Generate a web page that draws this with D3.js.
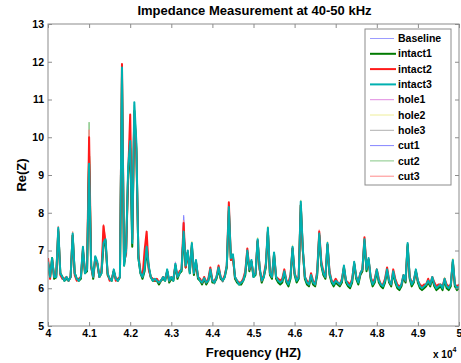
<!DOCTYPE html>
<html>
<head>
<meta charset="utf-8">
<script src="https://cdn.jsdelivr.net/npm/d3@7"></script>
<style>
  body { margin: 0; background: #fff; }
  svg { display: block; font-family: "Liberation Sans", Arial, sans-serif; }
</style>
</head>
<body>
<svg id="chart" width="461" height="363"></svg>
<script>
// sampling grid: 40 kHz .. 50 kHz, 50 Hz step (201 points)
const freqHz = d3.range(40000, 50001, 50);

const seriesNames = ['Baseline', 'intact1', 'intact2', 'intact3', 'hole1', 'hole2', 'hole3', 'cut1', 'cut2', 'cut3'];
const xTicks = [40000, 41000, 42000, 43000, 44000, 45000, 46000, 47000, 48000, 49000, 50000];
const xTickLabels = ['4', '4.1', '4.2', '4.3', '4.4', '4.5', '4.6', '4.7', '4.8', '4.9', '5'];
const yTicks = [5, 6, 7, 8, 9, 10, 11, 12, 13];

const baseline = [
  6.7,6.3,6.75,6.3,6.3,7.5,6.4,6.3,6.2,6.3,6.2,6.3,7.35,6.4,6.25,6.2,6.3,7.05,6.4,6.5,
  9.0,6.6,6.3,6.8,6.7,6.3,6.4,7.3,7.2,6.4,6.25,6.2,6.5,6.25,6.2,6.3,11.5,6.6,7.1,9.1,
  9.6,7.2,10.5,9.7,6.8,6.4,6.3,6.5,7.2,6.6,6.3,6.2,6.25,6.2,6.15,6.2,6.3,6.2,6.5,6.2,
  6.3,6.2,6.65,6.3,6.4,6.5,7.94,6.6,7.0,6.4,7.2,6.4,6.75,6.3,6.2,6.15,6.25,6.15,6.2,6.5,
  6.2,6.15,6.3,6.55,6.3,6.2,6.3,6.6,8.0,6.8,6.9,6.3,6.2,6.1,6.15,6.2,6.4,7.0,6.5,6.75,
  6.3,6.4,7.3,6.55,6.2,6.3,6.6,7.5,6.4,6.3,6.95,6.3,6.2,6.15,6.2,6.45,6.2,6.1,6.3,7.1,
  6.4,6.2,6.3,8.2,7.05,6.3,6.15,6.1,6.35,6.15,6.1,6.4,7.4,6.65,6.4,6.3,7.2,6.4,6.2,6.1,
  6.2,6.15,6.1,6.2,6.6,6.2,6.1,6.05,6.2,6.7,6.3,6.15,6.4,6.5,7.25,6.5,6.8,6.3,6.1,6.2,
  6.5,6.2,6.1,6.05,6.2,6.5,6.2,6.1,6.45,6.2,6.05,6.0,6.1,6.35,6.2,7.15,6.3,6.1,6.2,6.5,
  6.2,6.05,6.0,6.05,6.1,6.2,6.1,6.3,6.1,6.0,6.05,6.1,6.0,6.25,6.05,6.0,6.1,6.75,6.1,6.0,
  6.05
];
const intact1 = [
  6.65,6.3,6.8,6.25,6.3,7.5,6.4,6.3,6.2,6.25,6.2,6.3,7.4,6.4,6.25,6.2,6.25,7.0,6.4,6.45,
  9.5,6.6,6.25,6.8,6.65,6.3,6.4,7.1,7.25,6.35,6.25,6.2,6.45,6.25,6.2,6.3,11.6,6.6,7.05,9.0,
  9.7,7.1,10.7,9.7,6.8,6.4,6.25,6.45,7.0,6.55,6.3,6.2,6.2,6.2,6.1,6.2,6.25,6.2,6.45,6.15,
  6.25,6.2,6.6,6.25,6.4,6.45,7.4,6.55,6.95,6.4,7.15,6.35,6.7,6.25,6.2,6.1,6.25,6.1,6.2,6.45,
  6.15,6.15,6.25,6.5,6.25,6.2,6.3,6.55,8.05,6.75,6.85,6.25,6.15,6.1,6.1,6.2,6.35,6.95,6.45,6.7,
  6.3,6.35,7.25,6.5,6.15,6.3,6.55,7.5,6.35,6.25,6.9,6.25,6.15,6.1,6.15,6.4,6.15,6.05,6.25,7.05,
  6.35,6.15,6.25,8.2,7.0,6.25,6.1,6.05,6.3,6.1,6.05,6.35,7.4,6.6,6.35,6.25,7.15,6.35,6.15,6.05,
  6.15,6.1,6.05,6.15,6.55,6.15,6.05,6.0,6.15,6.65,6.25,6.1,6.35,6.45,7.25,6.45,6.75,6.25,6.05,6.15,
  6.45,6.15,6.05,6.0,6.15,6.45,6.15,6.05,6.4,6.15,6.0,5.95,6.05,6.3,6.15,7.15,6.25,6.05,6.15,6.45,
  6.15,6.0,5.95,6.0,6.05,6.15,6.05,6.25,6.05,5.95,6.0,6.05,5.95,6.2,6.0,5.95,6.05,6.7,6.05,5.95,
  6.0
];
const intact2 = [
  6.8,6.25,6.75,6.3,6.35,7.55,6.35,6.25,6.25,6.3,6.2,6.3,7.4,6.35,6.2,6.25,6.3,7.05,6.45,6.5,
  10.0,6.55,6.3,6.8,6.65,6.3,6.45,7.65,7.2,6.4,6.2,6.25,6.45,6.2,6.25,6.3,11.94,6.7,6.9,9.0,
  10.6,7.3,10.6,9.6,6.9,6.45,6.3,7.0,7.5,6.5,6.3,6.25,6.2,6.25,6.15,6.2,6.3,6.25,6.45,6.2,
  6.3,6.25,6.6,6.3,6.45,6.5,7.73,6.55,6.95,6.45,7.1,6.4,6.7,6.3,6.25,6.15,6.3,6.15,6.25,6.55,
  6.2,6.2,6.3,6.6,6.3,6.2,6.35,6.6,8.28,6.75,6.8,6.3,6.2,6.15,6.15,6.25,6.45,7.05,6.5,6.7,
  6.35,6.4,7.25,6.5,6.2,6.35,6.65,7.5,6.4,6.3,6.9,6.3,6.25,6.2,6.25,6.5,6.2,6.15,6.35,7.05,
  6.4,6.25,6.3,8.2,7.0,6.3,6.2,6.1,6.4,6.2,6.1,6.45,7.5,6.7,6.45,6.3,7.15,6.45,6.2,6.15,
  6.25,6.15,6.1,6.25,6.55,6.2,6.15,6.1,6.25,6.65,6.3,6.2,6.4,6.5,7.35,6.55,6.75,6.3,6.15,6.25,
  6.5,6.25,6.1,6.1,6.25,6.55,6.2,6.1,6.5,6.25,6.1,6.05,6.1,6.35,6.2,7.1,6.3,6.15,6.2,6.45,
  6.2,6.1,6.05,6.1,6.1,6.25,6.1,6.3,6.15,6.05,6.1,6.1,6.05,6.25,6.1,6.05,6.1,6.7,6.1,6.05,
  6.1
];
const intact3 = [
  6.7,6.3,6.8,6.3,6.3,7.6,6.4,6.3,6.2,6.3,6.2,6.3,7.45,6.4,6.25,6.2,6.3,7.1,6.4,6.5,
  9.3,6.6,6.3,6.85,6.7,6.3,6.4,7.2,7.3,6.4,6.25,6.2,6.5,6.25,6.2,6.3,11.85,6.6,7.0,9.2,
  9.9,7.2,10.93,9.85,6.8,6.4,6.3,6.5,7.1,6.6,6.3,6.2,6.25,6.2,6.15,6.2,6.3,6.2,6.5,6.2,
  6.3,6.2,6.65,6.3,6.4,6.5,7.5,6.6,7.0,6.4,7.2,6.4,6.75,6.3,6.2,6.15,6.27,6.15,6.2,6.5,
  6.2,6.15,6.3,6.55,6.3,6.2,6.3,6.6,8.15,6.8,6.9,6.3,6.2,6.1,6.15,6.2,6.4,7.0,6.5,6.75,
  6.3,6.4,7.3,6.55,6.2,6.3,6.6,7.6,6.4,6.3,6.95,6.3,6.2,6.15,6.2,6.45,6.2,6.1,6.3,7.1,
  6.4,6.2,6.3,8.3,7.05,6.3,6.15,6.1,6.35,6.15,6.1,6.4,7.45,6.65,6.4,6.3,7.2,6.4,6.2,6.1,
  6.2,6.15,6.1,6.2,6.6,6.2,6.1,6.05,6.2,6.7,6.3,6.15,6.4,6.5,7.3,6.5,6.8,6.3,6.1,6.2,
  6.5,6.2,6.1,6.05,6.2,6.5,6.2,6.1,6.45,6.2,6.05,6.0,6.1,6.35,6.2,7.2,6.3,6.1,6.2,6.5,
  6.2,6.05,6.0,6.05,6.1,6.2,6.1,6.3,6.1,6.0,6.05,6.1,6.0,6.25,6.05,6.0,6.1,6.75,6.1,6.0,
  6.05
];
const hole1 = [
  6.75,6.3,6.8,6.35,6.3,7.55,6.4,6.3,6.25,6.3,6.2,6.35,7.4,6.4,6.25,6.25,6.3,7.1,6.45,6.5,
  9.7,6.6,6.3,6.85,6.7,6.35,6.4,7.4,7.25,6.4,6.25,6.2,6.5,6.3,6.2,6.3,11.6,6.65,7.0,9.1,
  10.0,7.2,10.6,9.75,6.85,6.4,6.3,6.55,7.3,6.6,6.3,6.25,6.25,6.2,6.15,6.25,6.3,6.2,6.5,6.25,
  6.3,6.2,6.7,6.3,6.4,6.5,7.6,6.6,7.0,6.45,7.2,6.4,6.75,6.3,6.25,6.15,6.3,6.15,6.2,6.5,
  6.25,6.15,6.3,6.55,6.35,6.2,6.3,6.6,8.1,6.8,6.9,6.3,6.2,6.15,6.15,6.2,6.4,7.0,6.5,6.75,
  6.3,6.4,7.3,6.55,6.25,6.3,6.6,7.55,6.4,6.3,6.95,6.35,6.2,6.15,6.2,6.45,6.25,6.1,6.3,7.1,
  6.4,6.2,6.35,8.25,7.05,6.3,6.15,6.15,6.35,6.15,6.1,6.4,7.45,6.65,6.4,6.35,7.2,6.4,6.2,6.1,
  6.2,6.15,6.15,6.2,6.6,6.2,6.1,6.05,6.2,6.7,6.3,6.15,6.45,6.5,7.3,6.5,6.8,6.3,6.1,6.2,
  6.5,6.2,6.1,6.1,6.2,6.5,6.2,6.1,6.45,6.2,6.05,6.05,6.1,6.35,6.2,7.2,6.3,6.1,6.2,6.5,
  6.2,6.05,6.05,6.05,6.1,6.2,6.1,6.3,6.1,6.05,6.05,6.1,6.0,6.25,6.05,6.05,6.1,6.75,6.1,6.0,
  6.05
];
const hole2 = [
  6.7,6.25,6.8,6.3,6.3,7.45,6.4,6.3,6.2,6.3,6.2,6.3,7.5,6.4,6.2,6.2,6.3,7.1,6.4,6.5,
  9.4,6.6,6.3,6.85,6.7,6.3,6.4,7.3,7.3,6.4,6.25,6.2,6.5,6.25,6.2,6.3,11.7,6.6,7.0,9.3,
  9.8,7.2,10.8,9.8,6.8,6.4,6.3,6.5,7.2,6.6,6.3,6.2,6.25,6.2,6.15,6.2,6.3,6.2,6.5,6.2,
  6.3,6.2,6.65,6.3,6.4,6.5,7.55,6.6,7.0,6.4,7.25,6.4,6.75,6.3,6.2,6.15,6.27,6.15,6.2,6.5,
  6.2,6.15,6.3,6.6,6.3,6.2,6.3,6.6,8.2,6.8,6.9,6.3,6.2,6.1,6.15,6.2,6.4,7.0,6.5,6.75,
  6.3,6.4,7.35,6.55,6.2,6.3,6.6,7.65,6.4,6.3,6.95,6.3,6.2,6.15,6.2,6.45,6.2,6.1,6.3,7.15,
  6.4,6.2,6.3,8.34,7.05,6.3,6.15,6.1,6.35,6.15,6.1,6.4,7.5,6.65,6.4,6.3,7.25,6.4,6.2,6.1,
  6.2,6.15,6.1,6.2,6.6,6.2,6.1,6.05,6.2,6.7,6.3,6.15,6.4,6.5,7.35,6.5,6.8,6.3,6.1,6.2,
  6.5,6.2,6.1,6.05,6.2,6.55,6.2,6.1,6.45,6.2,6.05,6.0,6.1,6.35,6.2,7.15,6.3,6.1,6.2,6.5,
  6.2,6.05,6.0,6.05,6.1,6.2,6.1,6.3,6.1,6.0,6.05,6.1,6.0,6.3,6.05,6.0,6.1,6.8,6.1,6.0,
  6.05
];
const hole3 = [
  6.65,6.3,6.75,6.3,6.25,7.5,6.35,6.3,6.2,6.25,6.2,6.3,7.35,6.35,6.25,6.2,6.25,7.05,6.4,6.45,
  9.6,6.55,6.3,6.8,6.65,6.3,6.35,7.2,7.2,6.35,6.2,6.2,6.45,6.25,6.2,6.25,11.55,6.6,7.0,9.0,
  9.7,7.15,10.5,9.6,6.8,6.35,6.3,6.45,7.1,6.55,6.3,6.2,6.2,6.2,6.1,6.2,6.25,6.2,6.45,6.2,
  6.25,6.2,6.6,6.3,6.35,6.45,7.5,6.55,6.95,6.4,7.15,6.35,6.7,6.3,6.2,6.1,6.25,6.1,6.2,6.45,
  6.2,6.1,6.25,6.5,6.3,6.15,6.3,6.55,8.05,6.75,6.85,6.3,6.15,6.1,6.1,6.2,6.35,6.95,6.45,6.7,
  6.3,6.35,7.25,6.5,6.2,6.25,6.55,7.5,6.35,6.3,6.9,6.3,6.2,6.1,6.2,6.4,6.2,6.1,6.25,7.05,
  6.35,6.2,6.25,8.2,7.0,6.25,6.15,6.1,6.3,6.15,6.05,6.35,7.4,6.6,6.35,6.25,7.15,6.35,6.15,6.1,
  6.15,6.1,6.1,6.15,6.55,6.15,6.1,6.0,6.15,6.65,6.25,6.1,6.35,6.45,7.25,6.45,6.75,6.25,6.1,6.15,
  6.45,6.15,6.05,6.05,6.15,6.45,6.15,6.05,6.4,6.15,6.05,6.0,6.05,6.3,6.15,7.15,6.25,6.05,6.15,6.45,
  6.15,6.05,6.0,6.0,6.05,6.15,6.05,6.25,6.05,6.0,6.0,6.05,6.0,6.2,6.05,6.0,6.05,6.7,6.05,6.0,
  6.0
];
const cut1 = [
  6.7,6.3,6.8,6.3,6.3,7.5,6.4,6.3,6.2,6.3,6.2,6.3,7.4,6.4,6.25,6.2,6.3,7.1,6.4,6.5,
  9.8,6.6,6.3,6.85,6.7,6.3,6.4,7.3,7.25,6.4,6.25,6.2,6.5,6.25,6.2,6.3,11.5,6.6,7.05,9.0,
  9.9,7.2,10.6,9.7,6.8,6.4,6.3,6.5,7.2,6.6,6.3,6.2,6.25,6.2,6.15,6.2,6.3,6.2,6.5,6.2,
  6.3,6.2,6.65,6.3,6.4,6.5,7.9,6.6,7.0,6.4,7.2,6.4,6.75,6.3,6.2,6.15,6.27,6.15,6.2,6.5,
  6.2,6.15,6.3,6.55,6.3,6.2,6.3,6.6,8.1,6.8,6.9,6.3,6.2,6.1,6.15,6.2,6.4,7.0,6.5,6.75,
  6.3,6.4,7.3,6.55,6.2,6.3,6.6,7.55,6.4,6.3,6.95,6.3,6.2,6.15,6.2,6.45,6.2,6.1,6.3,7.1,
  6.4,6.2,6.3,8.25,7.05,6.3,6.15,6.1,6.35,6.15,6.1,6.4,7.5,6.65,6.4,6.3,7.2,6.4,6.2,6.1,
  6.2,6.15,6.1,6.2,6.6,6.2,6.1,6.05,6.2,6.7,6.3,6.15,6.4,6.5,7.3,6.5,6.8,6.3,6.1,6.2,
  6.5,6.2,6.1,6.05,6.2,6.5,6.2,6.1,6.45,6.2,6.05,6.0,6.1,6.35,6.2,7.2,6.3,6.1,6.2,6.5,
  6.2,6.05,6.0,6.05,6.1,6.2,6.1,6.3,6.1,6.0,6.05,6.1,6.0,6.25,6.05,6.0,6.1,6.75,6.1,6.0,
  6.05
];
const cut2 = [
  6.75,6.3,6.8,6.3,6.3,7.6,6.4,6.3,6.2,6.3,6.2,6.3,7.45,6.4,6.25,6.2,6.3,7.1,6.45,6.5,
  10.4,6.6,6.3,6.85,6.7,6.3,6.4,7.5,7.3,6.4,6.25,6.2,6.5,6.25,6.2,6.3,11.8,6.6,7.0,9.2,
  10.1,7.2,10.85,9.8,6.8,6.4,6.3,6.5,7.3,6.6,6.3,6.2,6.25,6.2,6.15,6.2,6.3,6.2,6.5,6.2,
  6.3,6.2,6.65,6.3,6.4,6.5,7.6,6.6,7.0,6.4,7.2,6.4,6.75,6.3,6.2,6.15,6.27,6.15,6.2,6.5,
  6.2,6.15,6.3,6.55,6.3,6.2,6.3,6.6,8.2,6.8,6.9,6.3,6.2,6.1,6.15,6.2,6.4,7.0,6.5,6.75,
  6.3,6.4,7.3,6.55,6.2,6.3,6.6,7.6,6.4,6.3,6.95,6.3,6.2,6.15,6.2,6.45,6.2,6.1,6.3,7.1,
  6.4,6.2,6.3,8.3,7.05,6.3,6.15,6.1,6.35,6.15,6.1,6.4,7.45,6.65,6.4,6.3,7.2,6.4,6.2,6.1,
  6.2,6.15,6.1,6.2,6.6,6.2,6.1,6.05,6.2,6.7,6.3,6.15,6.4,6.5,7.3,6.5,6.8,6.3,6.1,6.2,
  6.5,6.2,6.1,6.05,6.2,6.5,6.2,6.1,6.45,6.2,6.05,6.0,6.1,6.35,6.2,7.15,6.3,6.1,6.2,6.5,
  6.2,6.05,6.0,6.05,6.1,6.2,6.1,6.3,6.1,6.0,6.05,6.1,6.0,6.25,6.05,6.0,6.1,6.75,6.1,6.0,
  6.05
];
const cut3 = [
  6.8,6.3,6.8,6.3,6.35,7.65,6.4,6.3,6.25,6.3,6.2,6.3,7.5,6.4,6.25,6.25,6.3,7.1,6.45,6.55,
  10.2,6.6,6.3,6.85,6.7,6.35,6.45,7.7,7.3,6.4,6.25,6.2,6.5,6.25,6.25,6.3,11.9,6.65,7.0,9.1,
  10.4,7.3,10.7,9.9,6.85,6.4,6.3,6.9,7.45,6.6,6.3,6.2,6.25,6.2,6.15,6.2,6.3,6.25,6.5,6.2,
  6.3,6.2,6.65,6.3,6.45,6.5,7.8,6.6,7.0,6.4,7.2,6.4,6.75,6.3,6.2,6.15,6.3,6.15,6.2,6.55,
  6.2,6.2,6.3,6.6,6.3,6.2,6.35,6.6,8.25,6.8,6.9,6.3,6.2,6.1,6.15,6.2,6.45,7.05,6.5,6.75,
  6.35,6.4,7.3,6.55,6.2,6.35,6.65,7.55,6.4,6.3,6.95,6.3,6.2,6.15,6.2,6.5,6.2,6.1,6.35,7.1,
  6.4,6.2,6.3,8.25,7.05,6.3,6.15,6.1,6.4,6.15,6.1,6.4,7.55,6.7,6.4,6.3,7.2,6.45,6.2,6.1,
  6.2,6.15,6.1,6.2,6.6,6.2,6.1,6.05,6.25,6.7,6.3,6.15,6.4,6.5,7.35,6.5,6.8,6.3,6.1,6.2,
  6.5,6.2,6.1,6.05,6.2,6.5,6.2,6.1,6.45,6.2,6.05,6.0,6.1,6.35,6.2,7.2,6.3,6.1,6.2,6.5,
  6.2,6.05,6.0,6.05,6.1,6.2,6.1,6.3,6.1,6.0,6.05,6.1,6.0,6.25,6.05,6.0,6.1,6.75,6.1,6.0,
  6.05
];

const seriesValues = [baseline, intact1, intact2, intact3, hole1, hole2, hole3, cut1, cut2, cut3];
const seriesColors = ['#9c9cff', '#007a00', '#ff1a1a', '#00b0b0', '#e08ae0', '#eeee99', '#b0b0b0', '#8585ff', '#86c886', '#ff8a8a'];
const seriesWidths = [1, 2, 2, 2, 1, 1, 1, 1, 1, 1];
// thin traces underneath, thick "intact" traces on top (intact3 last)
const drawOrder = [0, 4, 5, 6, 7, 8, 9, 1, 2, 3];

const margin = { top: 24, right: 2, bottom: 37, left: 48 };
const width = 461 - margin.left - margin.right;
const height = 363 - margin.top - margin.bottom;
const axisColor = '#8c8c8c';

const svg = d3.select('#chart');

const x = d3.scaleLinear().domain([40000, 50000]).range([0, width]);
const y = d3.scaleLinear().domain([5, 13]).range([height, 0]);

const g = svg.append('g').attr('transform', `translate(${margin.left},${margin.top})`);

svg.append('defs').append('clipPath').attr('id', 'plotClip')
  .append('rect').attr('width', width).attr('height', height);

// Lines
const line = d3.line()
  .x((d, i) => x(freqHz[i]))
  .y(d => y(d));

const lines = g.append('g').attr('clip-path', 'url(#plotClip)');
drawOrder.forEach(k => {
  lines.append('path')
    .datum(seriesValues[k])
    .attr('fill', 'none')
    .attr('stroke', seriesColors[k])
    .attr('stroke-width', seriesWidths[k])
    .attr('stroke-linejoin', 'round')
    .attr('d', line);
});

// Frame
g.append('rect')
  .attr('width', width).attr('height', height)
  .attr('fill', 'none').attr('stroke', axisColor).attr('stroke-width', 1);

const styleAxis = sel => {
  sel.select('.domain').remove();
  sel.selectAll('.tick line').attr('stroke', axisColor);
  sel.selectAll('.tick text')
    .attr('fill', '#000')
    .style('font-size', '10.5px')
    .style('font-weight', 'bold');
};

// Axes (ticks point inward, MATLAB style)
g.append('g').attr('transform', `translate(0,${height})`)
  .call(d3.axisBottom(x).tickValues(xTicks).tickFormat((d, i) => xTickLabels[i]).tickSizeInner(-4).tickSizeOuter(0).tickPadding(4))
  .call(styleAxis);
g.append('g')
  .call(d3.axisTop(x).tickValues(xTicks).tickFormat('').tickSizeInner(-4).tickSizeOuter(0))
  .call(styleAxis);
g.append('g')
  .call(d3.axisLeft(y).tickValues(yTicks).tickFormat(d3.format('d')).tickSizeInner(-4).tickSizeOuter(0).tickPadding(4))
  .call(styleAxis);
g.append('g').attr('transform', `translate(${width},0)`)
  .call(d3.axisRight(y).tickValues(yTicks).tickFormat('').tickSizeInner(-4).tickSizeOuter(0))
  .call(styleAxis);

// Title and labels
svg.append('text')
  .attr('x', margin.left + width / 2 + 1).attr('y', 15)
  .attr('text-anchor', 'middle')
  .style('font-size', '13px').style('font-weight', 'bold')
  .text('Impedance Measurement at 40-50 kHz');

svg.append('text')
  .attr('x', margin.left + width / 2).attr('y', 357)
  .attr('text-anchor', 'middle')
  .style('font-size', '13px').style('font-weight', 'bold')
  .text('Frequency (HZ)');

svg.append('text')
  .attr('transform', `translate(26,${margin.top + height / 2}) rotate(-90)`)
  .attr('text-anchor', 'middle')
  .style('font-size', '13px').style('font-weight', 'bold')
  .text('Re(Z)');

const mult = svg.append('text')
  .attr('x', 433).attr('y', 358)
  .style('font-size', '10px').style('font-weight', 'bold');
mult.append('tspan').text('x 10');
mult.append('tspan').attr('dy', -6).style('font-size', '7px').text('4');

// Legend
const legend = svg.append('g').attr('transform', 'translate(365,29)');
legend.append('rect')
  .attr('width', 86).attr('height', 156)
  .attr('fill', '#fff').attr('stroke', axisColor);

seriesNames.forEach((name, k) => {
  const row = legend.append('g').attr('transform', `translate(0,${9.5 + k * 15.3})`);
  row.append('line')
    .attr('x1', 5).attr('x2', seriesWidths[k] > 1 ? 31 : 29)
    .attr('stroke', seriesColors[k]).attr('stroke-width', seriesWidths[k]);
  row.append('text')
    .attr('x', 33).attr('dy', '0.35em')
    .style('font-size', '10.5px').style('font-weight', 'bold')
    .text(name);
});
</script>
</body>
</html>
